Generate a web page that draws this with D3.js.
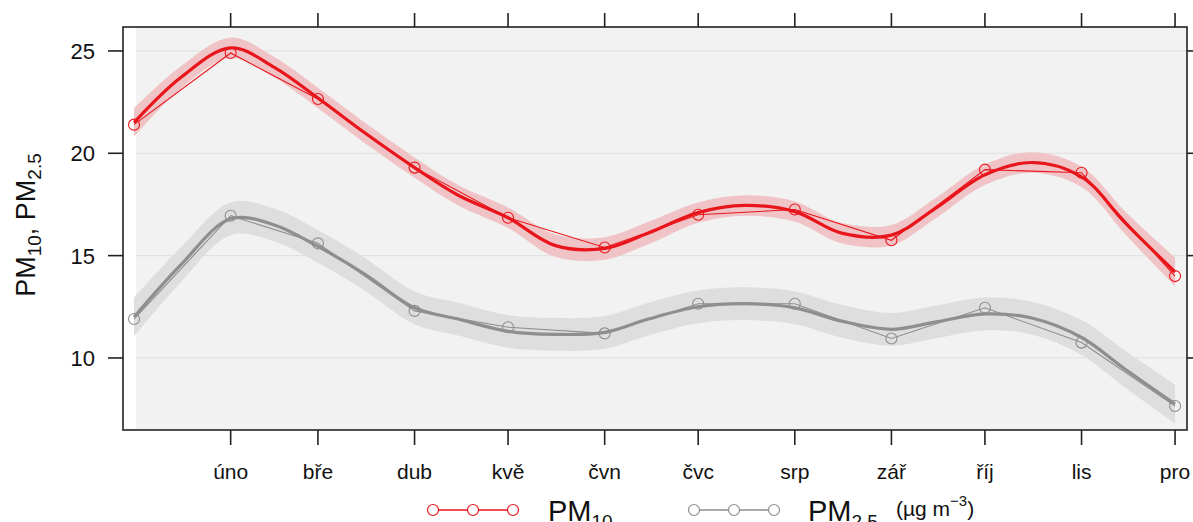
<!DOCTYPE html>
<html>
<head>
<meta charset="utf-8">
<script src="https://cdn.jsdelivr.net/npm/d3@7"></script>
<style>
  body { margin: 0; background: #fff; }
  svg { display: block; font-family: "Liberation Sans", Arial, sans-serif; }
</style>
</head>
<body>
<svg id="chart" width="1193" height="522"></svg>
<script>
// monthly means (1st of each month) and smooth fit
const monthLabels = ["led", "úno", "bře", "dub", "kvě", "čvn", "čvc", "srp", "zář", "říj", "lis", "pro"];
const monthDates = ["2019-01-01", "2019-02-01", "2019-03-01", "2019-04-01", "2019-05-01", "2019-06-01",
                    "2019-07-01", "2019-08-01", "2019-09-01", "2019-10-01", "2019-11-01", "2019-12-01"];
const pm10 = [21.4, 24.9, 22.65, 19.3, 16.85, 15.4, 17.0, 17.25, 15.75, 19.2, 19.05, 14.0];
const pm25 = [11.9, 16.95, 15.6, 12.3, 11.5, 11.2, 12.65, 12.65, 10.95, 12.45, 10.75, 7.65];

const smoothDates = ["2019-01-01", "2019-01-16", "2019-02-01", "2019-02-15", "2019-03-01", "2019-03-16",
                     "2019-04-01", "2019-04-15", "2019-05-01", "2019-05-16", "2019-06-01", "2019-06-15",
                     "2019-07-01", "2019-07-16", "2019-08-01", "2019-08-16", "2019-09-01", "2019-09-15",
                     "2019-10-01", "2019-10-16", "2019-11-01", "2019-11-15", "2019-12-01"];
const pm10Smooth = [21.5, 23.7, 25.15, 24.2, 22.7, 21.0, 19.3, 17.95, 16.85, 15.5, 15.35, 16.1,
                    17.1, 17.45, 17.15, 16.1, 16.0, 17.3, 18.95, 19.55, 18.85, 16.6, 14.2];
const pm10Band = [0.7, 0.55, 0.5, 0.5, 0.5, 0.5, 0.5, 0.5, 0.5, 0.55, 0.55, 0.55,
                  0.5, 0.5, 0.5, 0.5, 0.5, 0.5, 0.5, 0.5, 0.5, 0.55, 0.7];
const pm25Smooth = [12.0, 14.55, 16.8, 16.5, 15.45, 14.1, 12.45, 11.9, 11.3, 11.15, 11.25, 11.9,
                    12.5, 12.65, 12.45, 11.8, 11.4, 11.75, 12.15, 11.95, 11.0, 9.45, 7.75];
const pm25Band = [0.95, 0.85, 0.8, 0.8, 0.8, 0.8, 0.8, 0.8, 0.8, 0.8, 0.8, 0.8,
                  0.8, 0.8, 0.8, 0.8, 0.8, 0.8, 0.8, 0.8, 0.85, 0.9, 0.95];
const yTicks = [10, 15, 20, 25];

const svg = d3.select("#chart");
const pLeft = 123, pRight = 1187, pTop = 27, pBottom = 430;

const parse = d3.utcParse("%Y-%m-%d");
const mDates = monthDates.map(parse);
const sDates = smoothDates.map(parse);

const x = d3.scaleUtc()
    .domain([d3.utcHour.offset(mDates[0], -85), d3.utcHour.offset(mDates[11], 92)])
    .range([pLeft, pRight]);
const y = d3.scaleLinear().domain([6.48, 26.17]).range([pBottom, pTop]);

svg.append("defs").append("clipPath").attr("id", "clip")
    .append("rect").attr("x", pLeft).attr("y", pTop)
    .attr("width", pRight - pLeft).attr("height", pBottom - pTop);

// panel background
const bgLeft = x(mDates[0]) + 2;
svg.append("rect")
    .attr("x", bgLeft).attr("y", pTop)
    .attr("width", pRight - bgLeft).attr("height", pBottom - pTop)
    .attr("fill", "#f2f2f2");

// gridlines
svg.append("g").selectAll("line").data(yTicks).join("line")
    .attr("x1", bgLeft).attr("x2", pRight)
    .attr("y1", d => y(d)).attr("y2", d => y(d))
    .attr("stroke", "#e2e2e2").attr("stroke-width", 1.2);

const plot = svg.append("g").attr("clip-path", "url(#clip)");

const series = [
  { vals: pm10, smooth: pm10Smooth, band: pm10Band, line: "#e8161c", fill: "#f0c4c6" },
  { vals: pm25, smooth: pm25Smooth, band: pm25Band, line: "#8e8e8e", fill: "#dedede" }
];

const smoothLine = d3.line()
    .x((d, i) => x(sDates[i]))
    .y(d => y(d))
    .curve(d3.curveCatmullRom.alpha(0.5));

const dataLine = d3.line()
    .x((d, i) => x(mDates[i]))
    .y(d => y(d));

series.forEach(s => {
  const area = d3.area()
      .x((d, i) => x(sDates[i]))
      .y0((d, i) => y(d - s.band[i]))
      .y1((d, i) => y(d + s.band[i]))
      .curve(d3.curveCatmullRom.alpha(0.5));
  plot.append("path")
      .datum(s.smooth)
      .attr("d", area)
      .attr("fill", s.fill);
});

series.forEach(s => {
  plot.append("path").datum(s.smooth)
      .attr("d", smoothLine)
      .attr("fill", "none").attr("stroke", s.line).attr("stroke-width", 3.2);
  plot.append("path").datum(s.vals)
      .attr("d", dataLine)
      .attr("fill", "none").attr("stroke", s.line).attr("stroke-width", 1.1);
  plot.append("g").selectAll("circle").data(s.vals).join("circle")
      .attr("cx", (d, i) => x(mDates[i])).attr("cy", d => y(d))
      .attr("r", 5.5)
      .attr("fill", "none").attr("stroke", s.line).attr("stroke-width", 1.1);
});

// frame
svg.append("rect")
    .attr("x", pLeft).attr("y", pTop)
    .attr("width", pRight - pLeft).attr("height", pBottom - pTop)
    .attr("fill", "none").attr("stroke", "#222").attr("stroke-width", 1.6);

const tickDates = mDates.slice(1);
const tickLabels = monthLabels.slice(1);

// bottom & top ticks
svg.append("g").selectAll("line").data(tickDates).join("line")
    .attr("x1", d => x(d)).attr("x2", d => x(d))
    .attr("y1", pBottom).attr("y2", pBottom + 15)
    .attr("stroke", "#222").attr("stroke-width", 1.6);
svg.append("g").selectAll("line").data(tickDates).join("line")
    .attr("x1", d => x(d)).attr("x2", d => x(d))
    .attr("y1", pTop).attr("y2", pTop - 14)
    .attr("stroke", "#222").attr("stroke-width", 1.6);
svg.append("g").selectAll("text").data(tickLabels).join("text")
    .attr("x", (d, i) => x(tickDates[i])).attr("y", 479)
    .attr("text-anchor", "middle")
    .attr("font-size", 21).attr("fill", "#111")
    .text(d => d);

// left & right ticks
svg.append("g").selectAll("line").data(yTicks).join("line")
    .attr("x1", pLeft - 15).attr("x2", pLeft)
    .attr("y1", d => y(d)).attr("y2", d => y(d))
    .attr("stroke", "#222").attr("stroke-width", 1.6);
svg.append("g").selectAll("line").data(yTicks).join("line")
    .attr("x1", pRight).attr("x2", pRight + 15)
    .attr("y1", d => y(d)).attr("y2", d => y(d))
    .attr("stroke", "#222").attr("stroke-width", 1.6);
svg.append("g").selectAll("text").data(yTicks).join("text")
    .attr("x", 95).attr("y", d => y(d) + 8)
    .attr("text-anchor", "end")
    .attr("font-size", 22).attr("fill", "#111")
    .text(d => d);

// y-axis title
const yTitle = svg.append("text")
    .attr("transform", "translate(35,225) rotate(-90)")
    .attr("text-anchor", "middle")
    .attr("font-size", 27).attr("fill", "#111");
yTitle.append("tspan").text("PM");
yTitle.append("tspan").attr("font-size", 19).attr("dy", 6).text("10");
yTitle.append("tspan").attr("dy", -6).text(", PM");
yTitle.append("tspan").attr("font-size", 19).attr("dy", 6).text("2.5");

// legend
const legendY = 510;
const legendItems = [
  { x0: 433, color: "#e8161c", label: "10", tx: 548 },
  { x0: 694, color: "#8e8e8e", label: "2.5", tx: 808 }
];
legendItems.forEach(item => {
  const g = svg.append("g");
  const pts = [0, 40, 80].map(o => item.x0 + o);
  g.append("line")
      .attr("x1", pts[0]).attr("x2", pts[2])
      .attr("y1", legendY).attr("y2", legendY)
      .attr("stroke", item.color).attr("stroke-width", 1.6);
  g.selectAll("circle").data(pts).join("circle")
      .attr("cx", d => d).attr("cy", legendY).attr("r", 5.5)
      .attr("fill", "#fff").attr("stroke", item.color).attr("stroke-width", 1.2);
  const t = g.append("text")
      .attr("x", item.tx).attr("y", 521)
      .attr("font-size", 29).attr("fill", "#111");
  t.append("tspan").text("PM");
  t.append("tspan").attr("font-size", 19).attr("dy", 7).text(item.label);
});

const unit = svg.append("text")
    .attr("x", 896).attr("y", 516)
    .attr("font-size", 21).attr("fill", "#111");
unit.append("tspan").text("(µg m");
unit.append("tspan").attr("font-size", 15).attr("dy", -10).text("−3");
unit.append("tspan").attr("dy", 10).text(")");
</script>
</body>
</html>
